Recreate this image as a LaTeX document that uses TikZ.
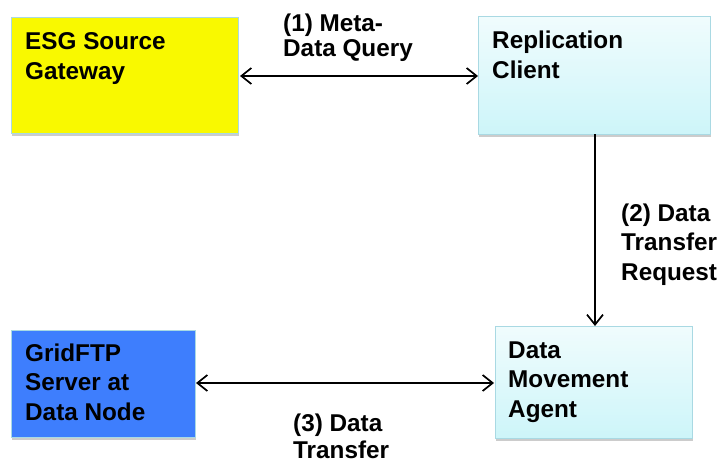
\documentclass[tikz,border=0pt]{standalone}
\usepackage{fontspec}
\setmainfont{Liberation Sans}
\usetikzlibrary{arrows.meta,shadows}
\definecolor{esgyellow}{HTML}{F9F900}
\definecolor{gridblue}{HTML}{3E7EFD}
\definecolor{cyantop}{HTML}{F0FCFD}
\definecolor{cyanbot}{HTML}{CDF5F9}
\definecolor{boxedge}{HTML}{A9D9E3}
\tikzset{
  box/.style={draw=boxedge, line width=0.8pt, inner sep=0pt, anchor=north west,
    drop shadow={opacity=0.4, shadow xshift=1pt, shadow yshift=-2.5pt}},
  cyanbox/.style={box, top color=cyantop, bottom color=cyanbot},
  boxtext/.style={anchor=base west, inner sep=0pt, align=left,
    font=\fontsize{24.3}{29.5}\selectfont\bfseries},
  lbl/.style={anchor=base west, inner sep=0pt, align=left,
    font=\fontsize{24.3}{27}\selectfont\bfseries},
  link/.style={line width=1.4pt, {Straight Barb[length=10pt,width=16pt,line width=1.7pt]}-{Straight Barb[length=10pt,width=16pt,line width=1.7pt]}},
  onelink/.style={line width=1.4pt, -{Straight Barb[length=10pt,width=16pt,line width=1.7pt]}}
}
\begin{document}
\begin{tikzpicture}[x=1pt,y=-1pt]
\useasboundingbox (0,0) rectangle (720,463);
% boxes
\node[box, fill=esgyellow, minimum width=227pt, minimum height=116pt] (esg) at (11,17) {};
\node[cyanbox, minimum width=232pt, minimum height=118pt] (rep) at (478,16) {};
\node[cyanbox, minimum width=197pt, minimum height=112pt] (dma) at (495,326) {};
\node[box, fill=gridblue, minimum width=184pt, minimum height=107pt] (grid) at (11,330) {};
% box texts (anchor at the baseline of the last line)
\node[boxtext] (esgT) at (25,79) {ESG Source\\Gateway};
\node[boxtext] (repT) at (492,78) {Replication\\Client};
\node[boxtext] (dmaT) at (508,417) {Data\\Movement\\Agent};
\node[boxtext] (gridT) at (25,420) {GridFTP\\Server at\\Data Node};
% connectors
\coordinate (a1) at (240,76);
\coordinate (a2) at (478,76);
\draw[link] (a1) -- (a2);
\coordinate (b1) at (595,134);
\coordinate (b2) at (595,326);
\draw[onelink] (b1) -- (b2);
\coordinate (c1) at (196,383);
\coordinate (c2) at (494,383);
\draw[link] (c1) -- (c2);
% labels
\node[lbl, font=\fontsize{24.3}{24.5}\selectfont\bfseries] (l1) at (283,56) {(1) Meta-\\Data Query};
\node[lbl, font=\fontsize{24.3}{29.5}\selectfont\bfseries] (l2) at (621,280) {(2) Data\\Transfer\\Request};
\node[lbl] (l3) at (293,458) {(3) Data\\Transfer};
\end{tikzpicture}
\end{document}
